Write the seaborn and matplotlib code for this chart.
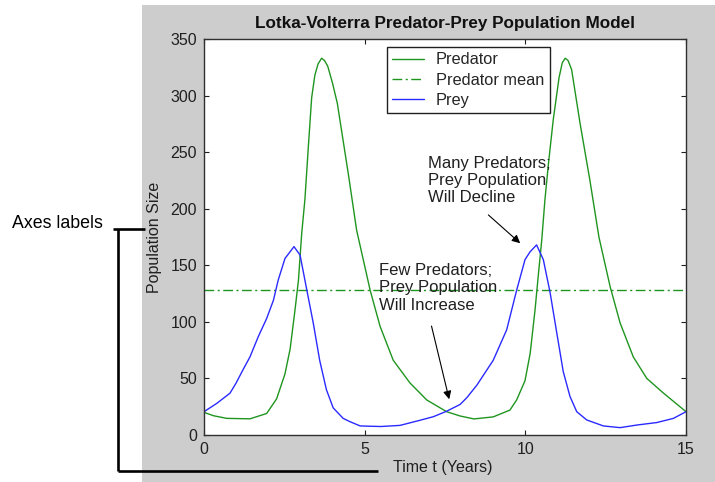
import numpy as np
import pandas as pd
import matplotlib
matplotlib.use("Agg")
import matplotlib.pyplot as plt
from matplotlib.patches import Rectangle
from matplotlib.lines import Line2D
import seaborn as sns

# Predator and prey populations over time (years)
predator_t = [0.0, 0.3, 0.71, 1.43, 1.95, 2.26, 2.52, 2.68, 2.83, 2.94, 3.04, 3.14,
              3.25, 3.35, 3.45, 3.55, 3.66, 3.75, 3.85, 4.00, 4.15, 4.49, 4.75, 5.17,
              5.48, 5.89, 6.41, 6.93, 7.55, 7.97, 8.40, 9.00, 9.52, 9.73, 9.99,
              10.15, 10.30, 10.41, 10.51, 10.61, 10.72, 10.87, 11.05, 11.15, 11.24,
              11.33, 11.44, 11.70, 12.01, 12.29, 12.64, 12.95, 13.36, 13.78, 14.30,
              15.0]
predator = [20, 17, 14.7, 14.3, 19, 32, 54, 76, 110, 137, 178, 208,
            256, 298, 318, 328, 333, 331, 326, 311, 293, 231, 181, 128,
            96, 66, 46, 31, 20.6, 16.8, 14.2, 16, 22, 31, 48,
            72, 110, 143, 172, 208, 240, 279, 316, 329, 333,
            331, 323, 276, 225, 175, 131, 99, 69, 50, 37,
            20.6]

prey_t = [0.0, 0.4, 0.81, 1.0, 1.22, 1.43, 1.69, 1.95, 2.16, 2.31, 2.52, 2.68,
          2.80, 2.99, 3.18, 3.40, 3.60, 3.81, 4.02, 4.33, 4.54, 4.86, 5.50, 6.10,
          6.72, 7.14, 7.55, 7.97, 8.18, 8.49, 9.00, 9.42, 9.73, 9.99, 10.15,
          10.35, 10.56, 10.77, 10.98, 11.18, 11.39, 11.60, 11.91, 12.43, 12.95,
          13.47, 14.09, 14.61, 15.0]
prey = [20.6, 28, 37, 46, 58, 69, 87, 103, 119, 137, 156, 162,
        166.5, 159, 131, 99, 66, 40, 24, 14.7, 11.8, 8, 7.5, 8.5,
        13, 16.2, 21, 27, 33, 44, 66, 93, 128, 155, 162,
        168, 155, 126, 90, 56, 34, 20.6, 13.3, 8, 6.5,
        8.8, 11, 14.7, 20.6]

predator_mean = 128.5
mean_t = [0, 15]

x_ticks = [0, 5, 10, 15]
y_ticks = [0, 50, 100, 150, 200, 250, 300, 350]

sns.set_style("ticks")
plt.rcParams["font.family"] = ["Liberation Sans", "DejaVu Sans"]

W, H = 715, 482
fig = plt.figure(figsize=(W / 100, H / 100), dpi=100, facecolor="white")

# grey figure panel
fig.patches.append(Rectangle((142 / W, 0), (W - 142) / W, 477 / H,
                             transform=fig.transFigure, facecolor="#cdcdcd",
                             edgecolor="none", zorder=-5))

ax = fig.add_axes([204 / W, (H - 435) / H, 482 / W, 396 / H])
ax.set_facecolor("white")

green = "#1f951f"
blue = "#2a2aff"

pred_df = pd.DataFrame({"t": predator_t, "v": predator})
prey_df = pd.DataFrame({"t": prey_t, "v": prey})
mean_df = pd.DataFrame({"t": mean_t, "v": [predator_mean, predator_mean]})

sns.lineplot(data=pred_df, x="t", y="v", ax=ax, color=green, lw=1.0,
             sort=False, estimator=None, label="Predator")
sns.lineplot(data=mean_df, x="t", y="v", ax=ax, color=green, lw=1.0,
             sort=False, estimator=None, label="Predator mean",
             dashes=False)
ax.lines[-1].set_dashes((7, 2.5, 1.5, 2.5))
sns.lineplot(data=prey_df, x="t", y="v", ax=ax, color=blue, lw=1.0,
             sort=False, estimator=None, label="Prey")

ax.set_xlim(0, 15)
ax.set_ylim(0, 350)
ax.set_xticks(x_ticks)
ax.set_yticks(y_ticks)
ax.tick_params(direction="in", top=True, right=True, length=3.6, width=0.8,
               labelsize=11.5, colors="#202020", pad=5)
for s in ax.spines.values():
    s.set_color("#303030")
    s.set_linewidth(1.0)

ax.set_title("Lotka-Volterra Predator-Prey Population Model",
             fontsize=12.3, fontweight="bold", pad=8, color="#101010")
ax.set_xlabel("Time t (Years)", fontsize=11.5, color="#202020")
ax.set_ylabel("Population Size", fontsize=11.5, color="#202020")
ax.xaxis.set_label_coords(0.496, -0.062)
ax.yaxis.set_label_coords(-0.087, 0.5)

leg = ax.legend(loc="upper left", bbox_to_anchor=(0.379, 0.981),
                borderaxespad=0, fontsize=11.8, frameon=True, fancybox=False,
                handlelength=1.9, handletextpad=0.75, labelspacing=0.32,
                borderpad=0.35)
leg.get_frame().set_edgecolor("#202020")
leg.get_frame().set_linewidth(1.0)
leg.get_frame().set_alpha(1)
for h in leg.get_lines():
    h.set_linewidth(1.0)

# annotations
ax.text(6.97, 247, "Many Predators;\nPrey Population\nWill Decline",
        ha="left", va="top", fontsize=12, linespacing=1.2, color="#202020")
ax.annotate("", xy=(9.84, 169.5), xytext=(8.85, 194.5),
            arrowprops=dict(arrowstyle="-|>", color="black", lw=0.8,
                            mutation_scale=12, shrinkA=0, shrinkB=0))
ax.text(5.46, 152, "Few Predators;\nPrey Population\nWill Increase",
        ha="left", va="top", fontsize=12, linespacing=1.2, color="#202020")
ax.annotate("", xy=(7.63, 31.6), xytext=(7.08, 96.3),
            arrowprops=dict(arrowstyle="-|>", color="black", lw=0.8,
                            mutation_scale=12, shrinkA=0, shrinkB=0))

# callout bracket pointing to the axis labels
lw_b = 1.9
for xs, ys in [((113, 145), (229, 229)), ((118, 118), (229, 471)),
               ((118, 378), (471, 471))]:
    fig.add_artist(Line2D([x / W for x in xs], [1 - y / H for y in ys],
                          transform=fig.transFigure, color="black",
                          lw=lw_b, solid_capstyle="butt"))
fig.text(12 / W, 1 - 223 / H, "Axes labels", ha="left", va="center",
         fontsize=12.8, color="black")

fig.savefig("out.png", dpi=100, facecolor="white")
